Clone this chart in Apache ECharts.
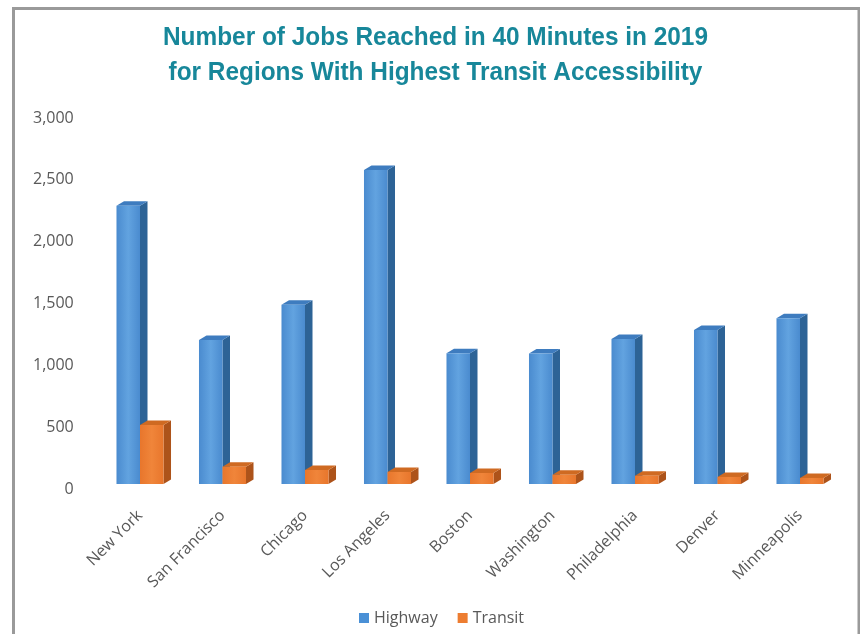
<!DOCTYPE html>
<html>
<head>
<meta charset="utf-8">
<script src="https://cdn.jsdelivr.net/npm/echarts@6/dist/echarts.min.js"></script>
<style>
  html, body { margin: 0; padding: 0; background: #ffffff; }
  #chart { width: 860px; height: 634px; }
</style>
</head>
<body>
<div id="chart"></div>
<script>
// ---- data ----
const categories = ['New York', 'San Francisco', 'Chicago', 'Los Angeles', 'Boston', 'Washington', 'Philadelphia', 'Denver', 'Minneapolis'];
const highway = [2250, 1165, 1450, 2540, 1057, 1055, 1172, 1245, 1340];
const transit = [477, 140, 113, 97, 89, 75, 67, 57, 49];
const seriesNames = ['Highway', 'Transit'];
const titleLines = ['Number of Jobs Reached in 40 Minutes in 2019', 'for Regions With Highest Transit Accessibility'];
const yTicks = { min: 0, max: 3000, interval: 500 };

// ---- styles ----
const palette = [
  { front: ['#4a8bcf', '#62a3e0', '#4a8bcf'], side: '#2d6396', top: '#3e7cbf', legend: '#4a90d6' },
  { front: ['#e8762c', '#f0853a', '#e8762c'], side: '#ad531a', top: '#cf6a22', legend: '#ed7d31' }
];
const DX = 7.5, DY = 4.5, SHIFT = 5;

function makeRender(sIdx) {
  return function (params, api) {
    const cat = api.value(0);
    const val = api.value(1);
    const base = api.coord([cat, 0]);
    const top = api.coord([cat, val]);
    const band = api.size([1, 0])[0];
    const w = band * 0.285;
    const xl = base[0] - w + sIdx * w;
    const xr = xl + w;
    const yb = base[1] - SHIFT;
    const yt = top[1] - SHIFT;
    const c = palette[sIdx];
    return {
      type: 'group',
      children: [
        {
          type: 'polygon',
          shape: { points: [[xr, yt], [xr + DX, yt - DY], [xr + DX, yb - DY], [xr, yb]] },
          style: { fill: c.side }
        },
        {
          type: 'polygon',
          shape: { points: [[xl, yt], [xl + DX, yt - DY], [xr + DX, yt - DY], [xr, yt]] },
          style: { fill: c.top }
        },
        {
          type: 'rect',
          shape: { x: xl, y: yt, width: w, height: yb - yt },
          style: {
            fill: {
              type: 'linear', x: 0, y: 0, x2: 1, y2: 0,
              colorStops: [
                { offset: 0, color: c.front[0] },
                { offset: 0.5, color: c.front[1] },
                { offset: 1, color: c.front[2] }
              ]
            }
          }
        }
      ]
    };
  };
}

// title font: condensed look via horizontal scaling of real text
const titleFont = "bold 26px 'Liberation Sans', Arial, sans-serif";
const mctx = document.createElement('canvas').getContext('2d');
mctx.font = titleFont;
const titleScale = 545 / mctx.measureText(titleLines[0]).width;

const chart = echarts.init(document.getElementById('chart'), null, { renderer: 'canvas' });
const labelColor = '#595959';
const font = "'Open Sans', 'Noto Sans', sans-serif";

chart.setOption({
  backgroundColor: '#ffffff',
  animation: false,
  graphic: [
    {
      type: 'rect',
      shape: { x: 13.5, y: 8.5, width: 845.5, height: 640 },
      style: { fill: 'none', stroke: '#9a9a9a', lineWidth: 3 },
      z: 100
    },
    {
      type: 'text',
      x: 435.5, y: 38, scaleX: titleScale,
      style: { text: titleLines[0], font: titleFont, fill: '#17879a', textAlign: 'center', textVerticalAlign: 'middle' }
    },
    {
      type: 'text',
      x: 435.5, y: 73, scaleX: titleScale,
      style: { text: titleLines[1], font: titleFont, fill: '#17879a', textAlign: 'center', textVerticalAlign: 'middle' }
    }
  ],
  legend: {
    left: 354,
    top: 605,
    itemWidth: 10,
    itemHeight: 10,
    itemGap: 20,
    icon: 'rect',
    data: seriesNames,
    textStyle: { fontFamily: font, fontSize: 16, color: labelColor }
  },
  grid: { left: 98.75, right: 18.75, top: 118, bottom: 145, containLabel: false },
  xAxis: {
    type: 'category',
    data: categories,
    axisLine: { show: false },
    axisTick: { show: false },
    axisLabel: {
      rotate: 45,
      margin: 24,
      interval: 0,
      fontFamily: font,
      fontSize: 16,
      color: labelColor
    },
    splitLine: { show: false }
  },
  yAxis: {
    type: 'value',
    min: yTicks.min,
    max: yTicks.max,
    interval: yTicks.interval,
    axisLine: { show: false },
    axisTick: { show: false },
    splitLine: { show: false },
    axisLabel: {
      margin: 25,
      fontFamily: font,
      fontSize: 16,
      color: labelColor,
      formatter: v => v.toLocaleString('en-US')
    }
  },
  series: [
    {
      name: seriesNames[0],
      type: 'custom',
      renderItem: makeRender(0),
      itemStyle: { color: palette[0].legend },
      encode: { x: 0, y: 1 },
      data: categories.map((c, i) => [i, highway[i]]),
      z: 2
    },
    {
      name: seriesNames[1],
      type: 'custom',
      renderItem: makeRender(1),
      itemStyle: { color: palette[1].legend },
      encode: { x: 0, y: 1 },
      data: categories.map((c, i) => [i, transit[i]]),
      z: 3
    }
  ]
});
</script>
</body>
</html>
